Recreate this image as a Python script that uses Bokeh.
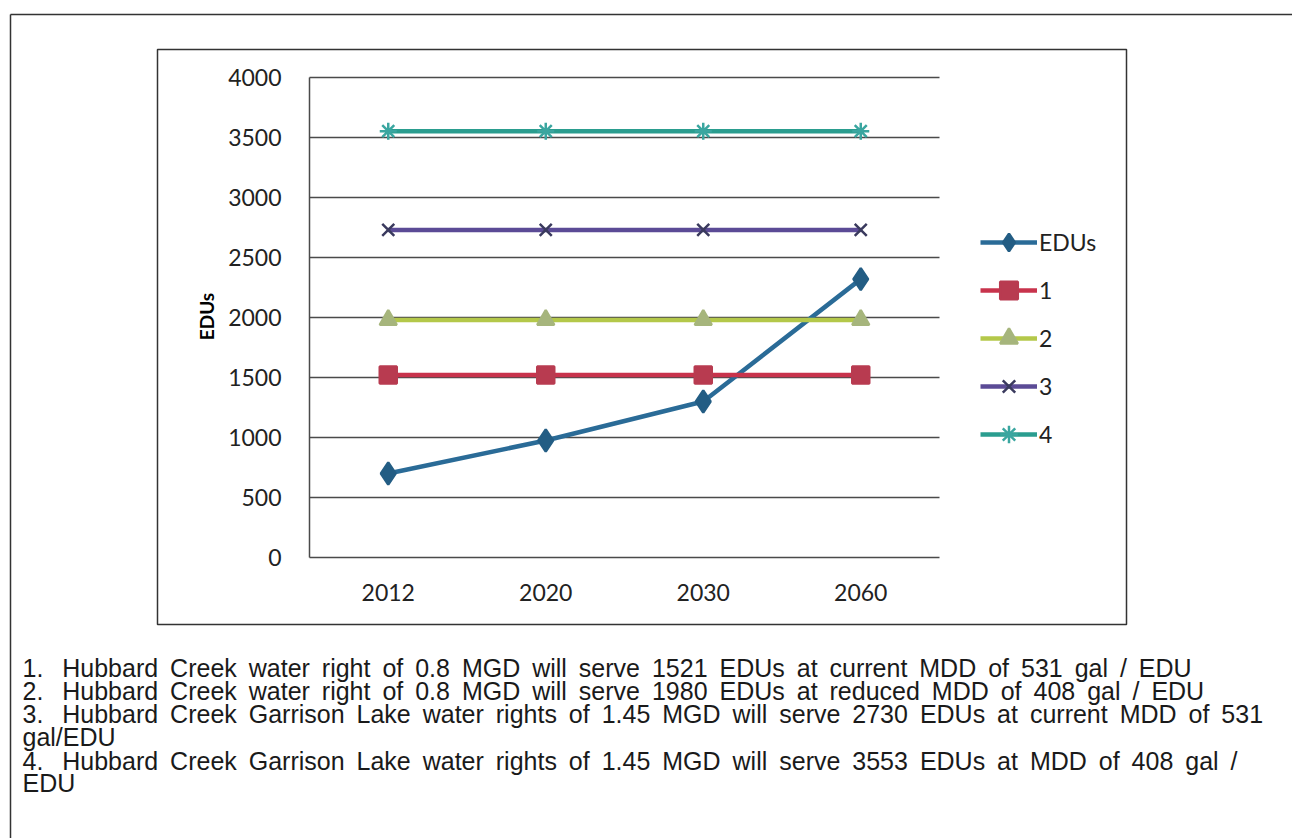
from math import pi

from bokeh.plotting import figure
from bokeh.models import (Range1d, Legend, LegendItem, Label, LinearAxis,
                          FixedTicker, SingleIntervalTicker)
from bokeh.embed import file_html
from bokeh.resources import INLINE

# Projection years (categories)
years = ["2012", "2020", "2030", "2060"]

# Projected EDU demand
edus = [700, 975, 1300, 2320]

# Capacity lines (EDUs served under each water-right scenario)
cap_1 = [1521, 1521, 1521, 1521]
cap_2 = [1980, 1980, 1980, 1980]
cap_3 = [2730, 2730, 2730, 2730]
cap_4 = [3553, 3553, 3553, 3553]

series_names = ["EDUs", "1", "2", "3", "4"]

y_ticks = [0, 500, 1000, 1500, 2000, 2500, 3000, 3500, 4000]

notes = [
    "1.  Hubbard Creek water right of 0.8 MGD will serve 1521 EDUs at current MDD of 531 gal / EDU",
    "2.  Hubbard Creek water right of 0.8 MGD will serve 1980 EDUs at reduced MDD of 408 gal / EDU",
    "3.  Hubbard Creek Garrison Lake water rights of 1.45 MGD will serve 2730 EDUs at current MDD of 531",
    "gal/EDU",
    "4.  Hubbard Creek Garrison Lake water rights of 1.45 MGD will serve 3553 EDUs at MDD of 408 gal /",
    "EDU",
]

W, H = 1292, 838

# Page layout in pixels
PLOT_L, PLOT_R, PLOT_T, PLOT_B = 309, 939, 77, 557
n = len(years)
step = (PLOT_R - PLOT_L) / n
x0_px = PLOT_L + step / 2
px_per_unit_y = (PLOT_B - PLOT_T) / (y_ticks[-1] - y_ticks[0])

x_start = -x0_px / step
x_end = (W - x0_px) / step
y_start = y_ticks[0] - (H - PLOT_B) / px_per_unit_y
y_end = y_ticks[-1] + PLOT_T / px_per_unit_y

p = figure(width=W, height=H, x_range=Range1d(x_start, x_end),
           y_range=Range1d(y_start, y_end), x_axis_type=None, y_axis_type=None,
           output_backend="svg", toolbar_location=None,
           min_border=0, min_border_left=0, min_border_right=0,
           min_border_top=0, min_border_bottom=0)
p.outline_line_color = None
p.background_fill_color = "white"
p.border_fill_color = "white"
p.xgrid.grid_line_color = None
p.ygrid.grid_line_color = None

# pixel-space ranges for page furniture (y grows downward)
p.extra_x_ranges = {"px": Range1d(0, W)}
p.extra_y_ranges = {"px": Range1d(H, 0)}

tick_font = "Lato"
axis_col = "#4a4a4a"
xs = list(range(n))

# page frame: top rule and left rule
p.segment(x0=[10, 10], y0=[14, 14], x1=[W, 10], y1=[14, H + 10],
          line_color="#333333", line_width=1.5, x_range_name="px", y_range_name="px")
# chart box
p.quad(left=[157], right=[1126], top=[49], bottom=[624], fill_color=None,
       line_color="#333333", line_width=1.5, x_range_name="px", y_range_name="px")

# horizontal gridlines across the plot area
p.segment(x0=[-0.5] * (len(y_ticks) - 1), x1=[n - 0.5] * (len(y_ticks) - 1),
          y0=y_ticks[1:], y1=y_ticks[1:], line_color=axis_col, line_width=1.5)

# y axis
yaxis = LinearAxis(fixed_location=-0.5, bounds=(y_ticks[0], y_ticks[-1]),
                   ticker=SingleIntervalTicker(interval=500))
yaxis.major_label_text_font = tick_font
yaxis.major_label_text_font_size = "23px"
yaxis.major_label_text_color = "#222222"
yaxis.major_label_standoff = 24
yaxis.major_tick_out = 0
yaxis.major_tick_in = 0
yaxis.major_tick_line_color = None
yaxis.minor_tick_line_color = None
yaxis.axis_line_color = axis_col
yaxis.axis_line_width = 1.5
p.add_layout(yaxis, "left")

# x axis (category positions labelled with the years)
xaxis = LinearAxis(fixed_location=y_ticks[0], bounds=(-0.5, n - 0.5),
                   ticker=FixedTicker(ticks=xs),
                   major_label_overrides={i: y for i, y in zip(xs, years)})
xaxis.major_label_text_font = tick_font
xaxis.major_label_text_font_size = "23px"
xaxis.major_label_text_color = "#222222"
xaxis.major_label_standoff = 26
xaxis.major_tick_out = 0
xaxis.major_tick_in = 0
xaxis.major_tick_line_color = None
xaxis.minor_tick_line_color = None
xaxis.axis_line_color = axis_col
xaxis.axis_line_width = 1.5
p.add_layout(xaxis, "below")

# y axis title
p.add_layout(Label(x=206, y=316, x_range_name="px", y_range_name="px", text="EDUs",
                   angle=pi / 2, text_font=tick_font, text_font_style="bold",
                   text_font_size="19px", text_color="black",
                   text_align="center", text_baseline="middle"))

# series styling: (values, line colour, marker, marker colour, marker size)
styles = [
    (edus, "#2a6b97", "diamond", "#235d84", 22),
    (cap_1, "#c8334c", "square", "#b83b50", 17),
    (cap_2, "#b4c84a", "triangle", "#a6b57c", 17),
    (cap_3, "#5b4b96", "x", "#3a3a5e", 17),
    (cap_4, "#2a9d8f", "asterisk", "#3aa6a0", 17),
]

items = []
for name, (vals, lc, mk, mc, ms) in zip(series_names, styles):
    r_line = p.line(xs, vals, line_color=lc, line_width=4.5)
    r_mark = p.scatter(xs, vals, marker=mk, size=ms, fill_color=mc,
                       line_color=mc, line_width=2.5)
    items.append(LegendItem(label=name, renderers=[r_line, r_mark]))

legend = Legend(items=items, location=(980, 382), orientation="vertical")
legend.border_line_color = None
legend.background_fill_alpha = 0
legend.padding = 0
legend.margin = 0
legend.spacing = 4
legend.glyph_width = 57
legend.glyph_height = 44
legend.label_height = 44
legend.label_standoff = 2
legend.label_text_font = tick_font
legend.label_text_font_size = "23px"
legend.label_text_color = "#222222"
p.add_layout(legend)

# notes beneath the chart (double space after each number, slightly open word gaps)
note_y = [667, 690, 713, 736, 760, 782]
for txt, yy in zip(notes, note_y):
    shown = txt.replace("  ", "\u00a0\u00a0\u2009").replace(" ", "\u2009 ")
    p.add_layout(Label(x=22, y=yy, x_range_name="px", y_range_name="px", text=shown,
                       text_font="Liberation Sans", text_font_size="25px",
                       text_color="#1a1a1a", text_baseline="middle"))

open("out.html", "w").write(file_html(p, INLINE))
